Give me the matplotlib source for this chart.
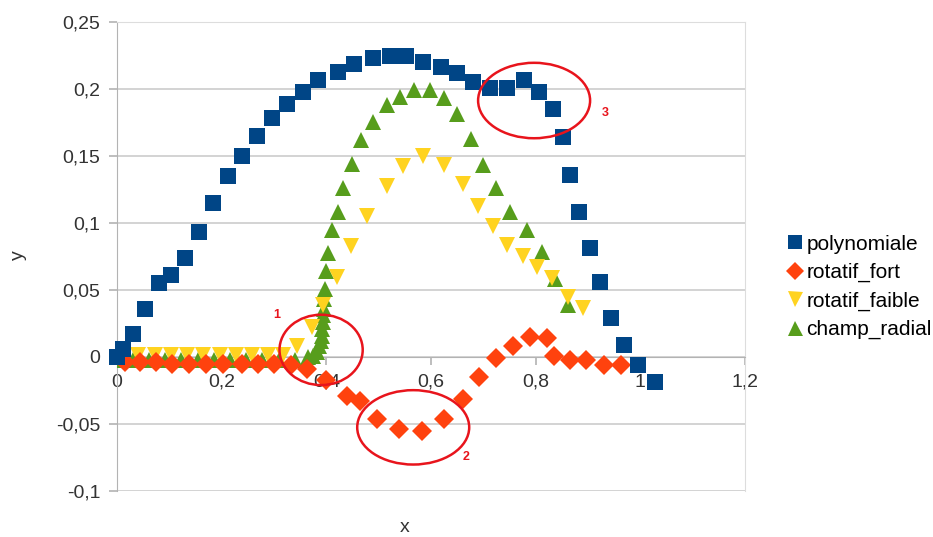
import matplotlib
matplotlib.use('Agg')
import matplotlib.pyplot as plt
from matplotlib.patches import Ellipse
from matplotlib.ticker import FuncFormatter, MultipleLocator

plt.rcParams['font.family'] = ['Liberation Sans', 'DejaVu Sans']

# polynomiale
poly_x = [0.0, 0.012, 0.03, 0.054, 0.081, 0.103, 0.13, 0.157, 0.184, 0.212,
          0.238, 0.267, 0.296, 0.325, 0.356, 0.385, 0.423, 0.453, 0.49, 0.522,
          0.552, 0.584, 0.619, 0.65, 0.681, 0.713, 0.745, 0.778, 0.807, 0.833,
          0.852, 0.866, 0.883, 0.903, 0.922, 0.944, 0.968, 0.996, 1.028]
poly_y = [0.0, 0.006, 0.0175, 0.036, 0.055, 0.061, 0.074, 0.093, 0.115, 0.135,
          0.15, 0.165, 0.178, 0.189, 0.198, 0.207, 0.213, 0.2185, 0.223, 0.2247,
          0.2247, 0.22, 0.2164, 0.212, 0.205, 0.201, 0.201, 0.2065, 0.198, 0.185,
          0.164, 0.136, 0.108, 0.081, 0.056, 0.029, 0.009, -0.006, -0.019]

# rotatif_fort
fort_x = [0.015, 0.043, 0.075, 0.106, 0.138, 0.171, 0.203, 0.238, 0.269, 0.30,
          0.332, 0.363, 0.40, 0.439, 0.464, 0.496, 0.538, 0.582, 0.624, 0.662,
          0.692, 0.724, 0.756, 0.789, 0.822, 0.835, 0.866, 0.896, 0.93, 0.963]
fort_y = [-0.004, -0.004, -0.004, -0.005, -0.005, -0.005, -0.005, -0.005, -0.005, -0.005,
          -0.006, -0.009, -0.0175, -0.029, -0.033, -0.046, -0.054, -0.055, -0.046, -0.031,
          -0.015, -0.001, 0.008, 0.015, 0.014, 0.001, -0.0025, -0.0025, -0.006, -0.006]

# rotatif_faible
faible_x = [0.01, 0.041, 0.072, 0.103, 0.134, 0.165, 0.196, 0.227, 0.258, 0.289,
            0.317, 0.343, 0.372, 0.394, 0.42, 0.447, 0.477, 0.515, 0.547, 0.585,
            0.625, 0.662, 0.69, 0.7185, 0.745, 0.775, 0.803, 0.831, 0.862, 0.891]
faible_y = [0.0015, 0.0015, 0.0015, 0.0015, 0.0015, 0.0015, 0.0015, 0.0015, 0.0015, 0.0015,
            0.0015, 0.0083, 0.0225, 0.0388, 0.060, 0.0826, 0.105, 0.1276, 0.1426, 0.150,
            0.1434, 0.129, 0.1126, 0.0976, 0.0839, 0.075, 0.0668, 0.0588, 0.045, 0.0363]

# champ_radial
radial_x = [0.0, 0.03, 0.061, 0.092, 0.123, 0.154, 0.185, 0.216, 0.247, 0.278,
            0.309, 0.34, 0.365, 0.375, 0.382, 0.386, 0.389, 0.391, 0.392, 0.393,
            0.394, 0.395, 0.396, 0.397, 0.399, 0.404, 0.41, 0.422, 0.432, 0.4485,
            0.466, 0.49, 0.515, 0.541, 0.568, 0.598, 0.625, 0.65, 0.676, 0.699,
            0.724, 0.751, 0.783, 0.812, 0.837, 0.862]
radial_y = [-0.002, -0.002, -0.002, -0.002, -0.002, -0.002, -0.002, -0.002, -0.002, -0.002,
            -0.002, -0.002, 0.0, 0.001, 0.004, 0.008, 0.012, 0.016, 0.021, 0.026,
            0.031, 0.036, 0.043, 0.051, 0.064, 0.0776, 0.095, 0.108, 0.126, 0.144,
            0.162, 0.175, 0.188, 0.194, 0.1995, 0.1995, 0.1935, 0.181, 0.163, 0.143,
            0.126, 0.108, 0.095, 0.078, 0.058, 0.039]

# red circles drawn on the chart: centre x, centre y, width, height, label, label pos
circ_cx = [0.39, 0.566, 0.797]
circ_cy = [0.0053, -0.0525, 0.1914]
circ_w = [0.159, 0.214, 0.214]
circ_h = [0.0525, 0.0555, 0.0563]
circ_lab = ['1', '2', '3']
lab_x = [0.306, 0.667, 0.9325]
lab_y = [0.0315, -0.075, 0.1824]

fig = plt.figure(figsize=(9.33, 5.37), dpi=100)
ax = fig.add_axes([117/933, 1-491/537, 628/933, 469/537])

# later series sit below the earlier ones, like in the original chart
ax.plot(poly_x, poly_y, 's', color='#004586', ms=11.5, mew=0, label='polynomiale',
        zorder=6, clip_on=False)
ax.plot(fort_x, fort_y, 'D', color='#ff420e', ms=10, mew=0, label='rotatif_fort', zorder=5)
ax.plot(faible_x, faible_y, 'v', color='#ffd320', ms=12, mew=0, label='rotatif_faible', zorder=4)
ax.plot(radial_x, radial_y, '^', color='#579d1c', ms=12, mew=0, label='champ_radial', zorder=3)

for cx, cy, w, h, t, lx, ly in zip(circ_cx, circ_cy, circ_w, circ_h, circ_lab, lab_x, lab_y):
    ax.add_patch(Ellipse((cx, cy), w, h, fill=False, edgecolor='#e8141c', lw=1.8, zorder=7))
    ax.text(lx, ly, t, color='#e8141c', fontsize=9, fontweight='bold', ha='center', va='center')

ax.set_xlim(0, 1.2)
ax.set_ylim(-0.1, 0.25)
ax.xaxis.set_major_locator(MultipleLocator(0.2))
ax.yaxis.set_major_locator(MultipleLocator(0.05))
fmt = FuncFormatter(lambda v, p: ('%g' % round(v, 3)).replace('.', ','))
ax.xaxis.set_major_formatter(fmt)
ax.yaxis.set_major_formatter(fmt)

ax.grid(axis='y', color='#cccccc', lw=1.2)
ax.set_axisbelow(True)
ax.spines['bottom'].set_position(('data', 0))
ax.spines['bottom'].set_color('#b3b3b3')
ax.spines['left'].set_color('#b3b3b3')
ax.spines['top'].set_color('#dddddd')
ax.spines['right'].set_color('#dddddd')
ax.tick_params(axis='both', colors='#b3b3b3', labelcolor='#333333', labelsize=14,
               length=6, width=1.2)
ax.tick_params(axis='y', pad=6)
ax.tick_params(axis='x', pad=6)

fig.text(18/933, 1-255/537, 'y', rotation=90, fontsize=14, color='#333333', ha='center', va='center')
fig.text(405/933, 1-528/537, 'x', fontsize=14, color='#333333', ha='center', va='center')

fig.legend(loc='center left', bbox_to_anchor=(776/933, 1-287/537), frameon=False,
           fontsize=15, handletextpad=0.05, handlelength=1.0, labelspacing=0.45,
           borderaxespad=0, markerscale=0.9)

fig.savefig('out.png', dpi=100)
